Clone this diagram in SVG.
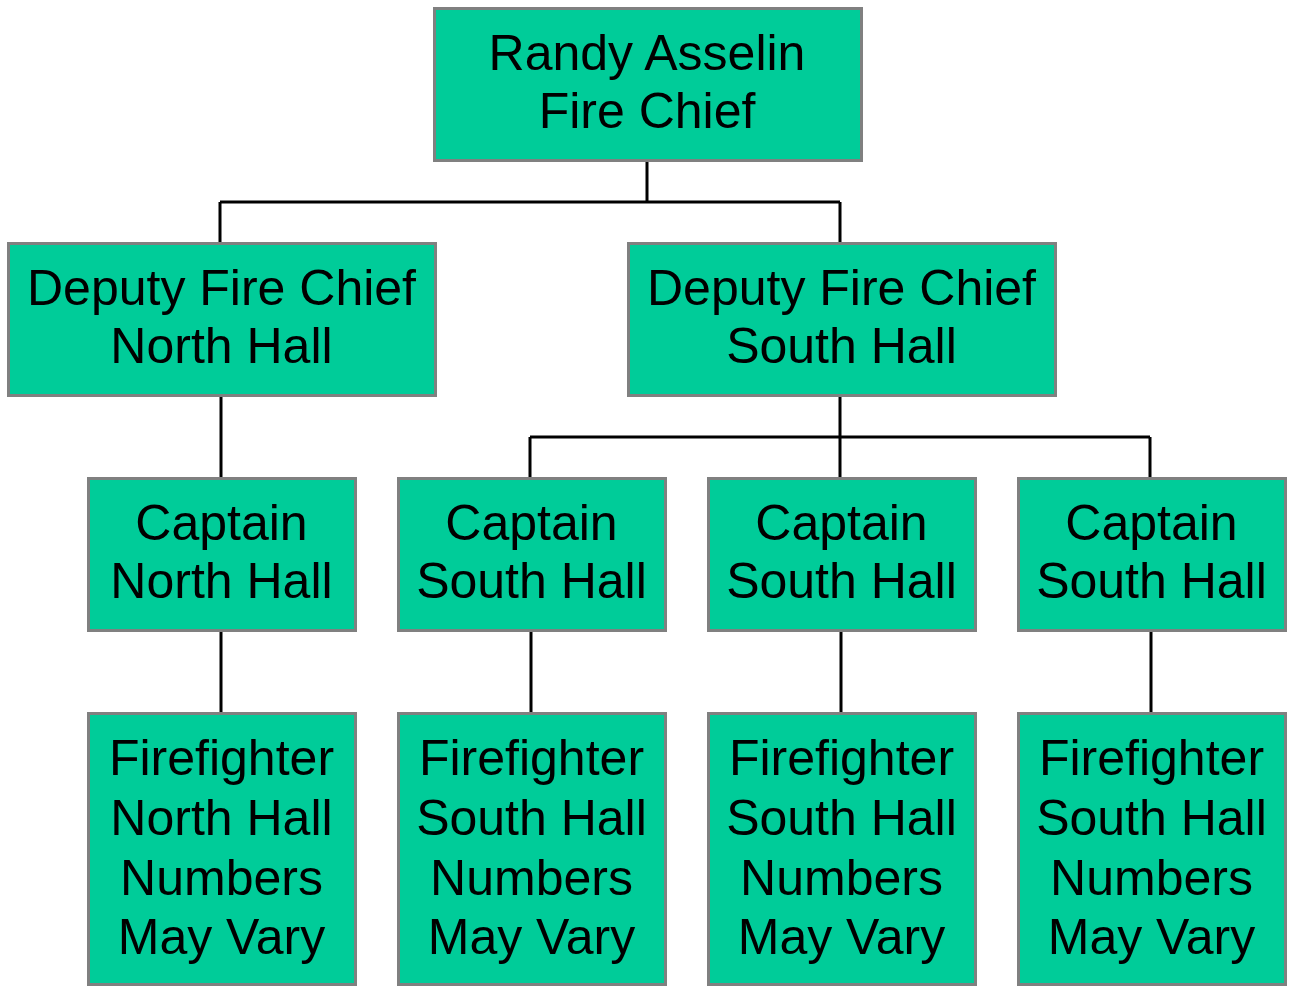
<svg xmlns="http://www.w3.org/2000/svg" width="1294" height="986" viewBox="0 0 1294 986">
<style>
.box{fill:#00CC99;stroke:#808080;stroke-width:3}
.t{font-family:"Liberation Sans",Arial,sans-serif;font-size:50px;fill:#000;text-anchor:middle}
.c{stroke:#000;stroke-width:3;fill:none}
</style>
<rect width="1294" height="986" fill="#fff"/>
<g id="connectors">
<path class="c" d="M647 160V202M220 202H840M220 202V243M840 202V243"/>
<path class="c" d="M221 395V478"/>
<path class="c" d="M840 395V478M530 437H1150M530 437V478M1150 437V478"/>
<path class="c" d="M221 630V713M531 630V713M841 630V713M1151 630V713"/>
</g>
<g id="chief">
<rect class="box" x="434.5" y="8.5" width="427" height="152"/>
<text class="t" x="647" y="70">Randy Asselin</text>
<text class="t" x="647" y="128">Fire Chief</text>
</g>
<g id="deputy-north">
<rect class="box" x="8.5" y="243.5" width="427" height="152"/>
<text class="t" x="221.5" y="305">Deputy Fire Chief</text>
<text class="t" x="221.5" y="363">North Hall</text>
</g>
<g id="deputy-south">
<rect class="box" x="628.5" y="243.5" width="427" height="152"/>
<text class="t" x="841.5" y="305">Deputy Fire Chief</text>
<text class="t" x="841.5" y="363">South Hall</text>
</g>
<g id="captain-north">
<rect class="box" x="88.5" y="478.5" width="267" height="152"/>
<text class="t" x="221.5" y="540">Captain</text>
<text class="t" x="221.5" y="598">North Hall</text>
</g>
<g id="captain-south-1">
<rect class="box" x="398.5" y="478.5" width="267" height="152"/>
<text class="t" x="531.5" y="540">Captain</text>
<text class="t" x="531.5" y="598">South Hall</text>
</g>
<g id="captain-south-2">
<rect class="box" x="708.5" y="478.5" width="267" height="152"/>
<text class="t" x="841.5" y="540">Captain</text>
<text class="t" x="841.5" y="598">South Hall</text>
</g>
<g id="captain-south-3">
<rect class="box" x="1018.5" y="478.5" width="267" height="152"/>
<text class="t" x="1151.5" y="540">Captain</text>
<text class="t" x="1151.5" y="598">South Hall</text>
</g>
<g id="firefighter-north">
<rect class="box" x="88.5" y="713.5" width="267" height="271"/>
<text class="t" x="221.5" y="775">Firefighter</text>
<text class="t" x="221.5" y="835">North Hall</text>
<text class="t" x="221.5" y="895">Numbers</text>
<text class="t" x="221.5" y="954">May Vary</text>
</g>
<g id="firefighter-south-1">
<rect class="box" x="398.5" y="713.5" width="267" height="271"/>
<text class="t" x="531.5" y="775">Firefighter</text>
<text class="t" x="531.5" y="835">South Hall</text>
<text class="t" x="531.5" y="895">Numbers</text>
<text class="t" x="531.5" y="954">May Vary</text>
</g>
<g id="firefighter-south-2">
<rect class="box" x="708.5" y="713.5" width="267" height="271"/>
<text class="t" x="841.5" y="775">Firefighter</text>
<text class="t" x="841.5" y="835">South Hall</text>
<text class="t" x="841.5" y="895">Numbers</text>
<text class="t" x="841.5" y="954">May Vary</text>
</g>
<g id="firefighter-south-3">
<rect class="box" x="1018.5" y="713.5" width="267" height="271"/>
<text class="t" x="1151.5" y="775">Firefighter</text>
<text class="t" x="1151.5" y="835">South Hall</text>
<text class="t" x="1151.5" y="895">Numbers</text>
<text class="t" x="1151.5" y="954">May Vary</text>
</g>
</svg>
